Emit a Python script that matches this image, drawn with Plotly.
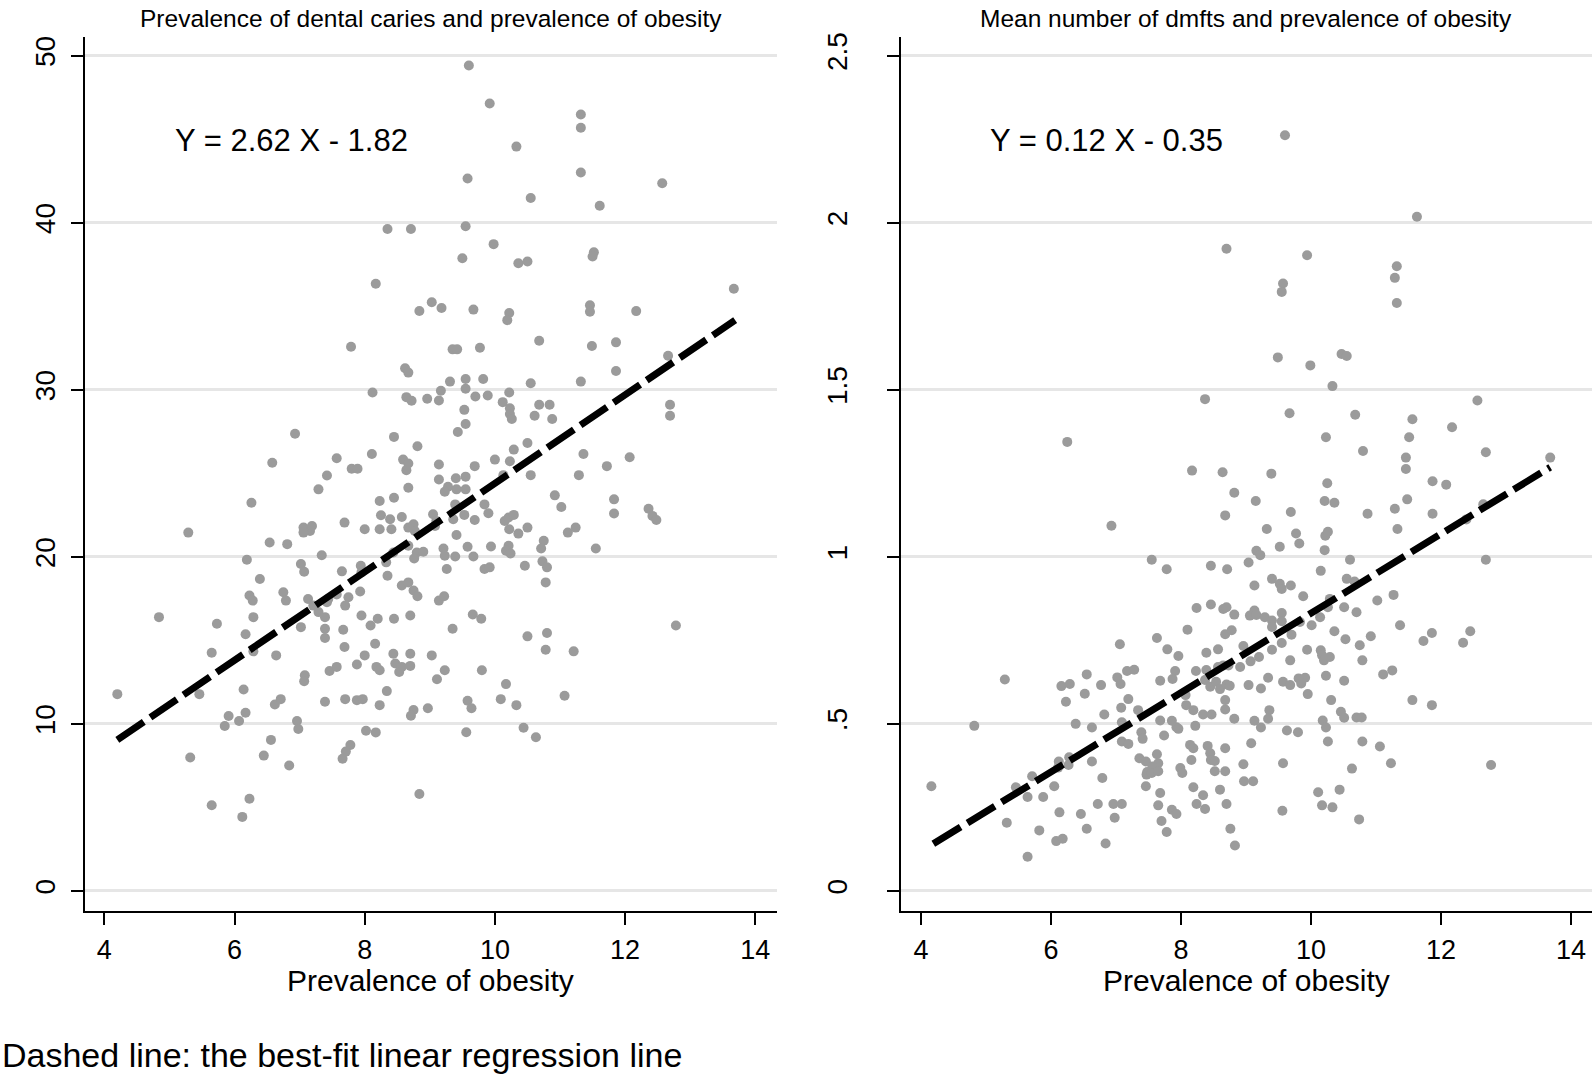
import plotly.graph_objects as go

# ---------------- data ----------------
# Left panel: prevalence of obesity (x) vs prevalence of dental caries (y)
caries_obesity = [
    8.35, 8.71, 8.17, 8.84, 7.79, 8.62, 8.67, 8.12, 8.64, 8.72, 8.96, 6.93, 8.45, 8.81, 6.58, 7.57, 8.11, 7.80, 7.89, 7.42,
    8.59, 8.67, 8.64, 7.29, 8.67,
    9.60, 9.92, 11.32, 11.32, 10.33, 9.58, 11.32, 12.57, 10.55, 11.61, 9.55, 9.98, 9.50, 10.36, 10.50, 11.52, 11.50, 13.67,
    9.03, 9.18, 9.67, 10.22, 10.19, 11.46, 11.46, 12.17, 10.68, 9.35, 9.42, 9.77, 11.49, 11.86, 12.66, 11.86, 9.31, 9.55,
    9.82, 9.55, 9.17, 9.14, 9.70, 9.89, 10.22, 10.55, 11.32, 10.12, 10.23, 10.23, 10.26, 10.68, 10.84, 10.61, 10.88, 12.69,
    12.69, 9.53, 9.55, 9.43, 10.50, 10.29, 11.36, 12.07, 9.14, 10.00, 10.23, 9.69, 11.72, 9.14, 9.40, 9.55, 10.13, 10.55,
    11.29, 9.28, 9.23, 9.41, 9.55,
    6.26, 8.23, 8.45, 5.29, 6.54, 6.81, 7.06, 7.16, 7.06, 7.19, 7.69, 8.00, 8.23, 8.25, 8.39, 8.41, 8.57, 8.67, 8.75, 8.77,
    8.67, 8.80, 8.90, 8.76, 8.44, 8.33, 7.34, 6.19, 7.02, 7.07, 7.65, 7.94, 7.95, 8.35, 6.39, 6.23, 6.28, 6.75, 6.79, 7.13,
    7.44, 7.42, 7.57, 7.75, 7.70, 7.93, 8.57, 8.67, 8.75, 8.81, 7.21, 7.29, 7.39, 4.84, 5.73, 6.29, 7.02, 7.39, 7.39, 7.67,
    7.95, 8.09, 8.20, 8.45, 8.70, 6.17, 5.65, 6.29, 6.64, 7.69, 8.16, 8.00, 8.44, 8.47, 8.57, 8.70, 8.53, 8.70, 7.46, 7.57,
    7.88, 8.18, 8.23, 7.08, 7.07, 4.20, 5.46, 6.14, 8.34, 6.62, 6.71, 7.39, 7.70, 7.88, 7.97, 8.23, 8.75, 8.71, 8.97, 5.91,
    6.17, 6.07, 5.85, 6.96, 6.98, 8.02, 8.17, 6.56, 6.45, 7.78, 7.71, 7.66, 6.84, 5.32, 8.84, 5.65, 6.23, 6.12,
    10.92, 11.02, 11.83, 11.83, 12.36, 12.42, 12.48, 9.39, 9.05, 9.08, 9.10, 9.36, 9.53, 9.69, 9.84, 9.90, 9.41, 10.15,
    10.21, 10.29, 10.22, 10.36, 10.50, 11.12, 11.24, 10.75, 10.71, 11.55, 9.21, 9.23, 9.39, 9.58, 9.67, 9.94, 10.21, 10.17,
    10.24, 9.26, 9.84, 9.92, 10.46, 10.73, 10.80, 10.78, 9.14, 9.22, 9.66, 9.79, 9.35, 10.50, 10.80, 10.78, 11.21, 12.78,
    9.03, 9.23, 9.11, 9.80, 10.17, 10.09, 10.33, 11.07, 9.58, 9.64, 9.56, 10.44, 10.63,
]
caries_prevalence = [
    39.63, 39.63, 36.35, 34.72, 32.58, 31.29, 31.03, 29.84, 29.56, 29.34, 29.46, 27.37, 27.18, 26.62, 25.63, 25.90, 26.16,
    25.27, 25.27, 24.87, 25.82, 25.59, 25.19, 24.04, 24.14,
    49.42, 47.14, 46.48, 45.69, 44.56, 42.65, 43.01, 42.37, 41.48, 41.02, 39.79, 38.72, 37.88, 37.58, 37.68, 38.24, 37.98,
    36.05, 35.24, 34.90, 34.80, 34.60, 34.17, 35.06, 34.67, 34.71, 32.94, 32.42, 32.42, 32.52, 32.62, 32.84, 32.04, 31.13,
    30.49, 30.65, 30.65, 30.06, 29.94, 29.36, 29.60, 29.66, 29.84, 30.39, 30.49, 29.26, 28.90, 28.55, 28.25, 29.10, 29.10,
    28.45, 28.25, 29.10, 28.45, 28.80, 27.95, 27.47, 26.82, 26.42, 26.16, 25.96, 25.53, 25.82, 25.72, 25.43, 25.43, 24.63,
    24.70, 24.80, 24.89, 24.89, 24.89, 24.20, 23.90, 24.04, 24.04,
    23.24, 23.34, 23.54, 21.45, 20.86, 20.76, 21.75, 21.55, 21.45, 21.85, 22.05, 21.65, 21.65, 22.49, 22.25, 21.65, 22.39,
    21.75, 21.95, 21.55, 20.66, 20.26, 20.30, 19.90, 20.26, 19.67, 20.10, 19.83, 19.57, 19.11, 19.13, 19.47, 19.07, 18.87,
    18.67, 17.68, 17.38, 17.88, 17.38, 17.48, 17.48, 17.28, 17.74, 17.58, 17.08, 17.92, 18.28, 18.47, 17.98, 17.64, 17.08,
    16.69, 16.39, 16.39, 15.99, 16.39, 15.79, 15.69, 15.14, 15.63, 16.49, 15.89, 16.29, 16.29, 16.49, 15.36, 14.26, 14.34,
    14.10, 14.60, 14.80, 14.10, 14.20, 13.61, 13.41, 13.47, 13.11, 14.20, 13.17, 13.41, 13.55, 13.41, 13.21, 12.91, 12.55,
    11.78, 11.78, 12.06, 11.96, 11.16, 11.48, 11.32, 11.48, 11.42, 11.48, 11.12, 10.83, 10.49, 10.93, 10.47, 10.67, 10.17,
    9.87, 10.17, 9.69, 9.59, 9.49, 9.04, 8.10, 8.74, 8.34, 7.91, 7.51, 7.99, 5.80, 5.13, 5.52, 4.43,
    23.68, 22.98, 23.44, 22.59, 22.88, 22.45, 22.21, 23.14, 22.55, 21.85, 22.15, 22.25, 22.51, 22.21, 23.14, 22.61, 21.31,
    22.15, 22.35, 22.51, 21.65, 21.39, 21.75, 21.45, 21.75, 20.96, 20.50, 20.50, 20.50, 20.06, 20.02, 20.60, 20.02, 20.62,
    20.66, 20.36, 20.20, 19.27, 19.27, 19.37, 19.47, 19.73, 19.37, 18.47, 17.38, 17.64, 16.55, 16.29, 15.69, 15.24, 15.44,
    14.44, 14.34, 15.89, 14.10, 13.21, 12.67, 13.21, 12.38, 11.48, 11.12, 11.68, 11.38, 10.93, 9.50, 9.77, 9.20,
]

# Right panel: prevalence of obesity (x) vs mean number of dmfts (y)
dmft_obesity = [
    8.70, 8.37, 6.25, 8.17, 8.64,
    9.60, 11.63, 9.94, 9.57, 9.55, 11.32, 11.29, 11.32, 9.49, 9.99, 10.47, 10.55, 10.33, 9.67, 10.68, 11.56, 12.56, 12.17,
    10.23, 11.51, 10.80, 12.69, 11.46, 13.68, 9.39, 11.46, 10.25, 11.87, 12.08,
    8.82, 8.68, 6.93, 7.55, 7.78, 8.46, 8.71, 8.24, 8.46, 8.65, 8.70, 8.82, 8.10, 8.68, 8.78, 7.63, 7.06, 7.79, 7.96, 8.39,
    8.57, 8.96, 8.91, 5.29, 6.16, 6.29, 6.23, 6.55, 6.52, 6.77, 7.02, 7.07, 7.17, 7.28, 7.68, 7.91, 7.87, 7.19, 7.08, 7.34,
    6.82, 8.23, 8.39, 8.37, 8.45, 8.57, 8.65, 8.73, 8.54, 8.60, 8.70, 8.75, 8.68, 8.68, 8.07, 8.08, 8.19, 8.34, 8.47, 8.82,
    4.82, 6.38, 6.63, 7.09, 7.68, 7.86, 7.93, 7.96, 8.22, 7.39, 7.41, 7.74, 7.09, 7.19, 8.14, 8.19, 8.41, 8.45, 8.46, 8.52,
    8.68, 6.28, 6.27, 6.12, 6.11, 6.63, 7.36, 7.46, 7.48, 7.47, 7.63, 7.65, 7.56, 7.55, 7.65, 7.99, 8.02, 8.16, 8.52, 8.68,
    8.96, 8.97, 5.71, 6.79, 4.16, 5.46, 6.05, 5.64, 5.88, 7.46, 7.68, 8.19, 8.34, 8.60, 6.72, 6.96, 7.09, 7.65, 8.24, 8.37,
    8.70, 7.86, 7.93, 6.13, 6.46, 5.32, 6.98, 7.70, 5.82, 6.55, 7.78, 8.76, 6.08, 6.18, 6.84, 8.83, 5.64,
    9.15, 10.21, 10.36, 11.48, 9.69, 10.87, 11.29, 11.87, 12.65, 12.39, 9.32, 9.77, 9.82, 10.22, 10.26, 11.33, 9.52, 9.16,
    9.22, 10.21, 9.04, 10.60, 12.69, 10.15, 9.40, 9.52, 9.55, 9.69, 9.13, 10.55, 10.67, 9.88, 10.29, 10.26, 11.02, 11.27,
    10.51, 10.70, 9.13, 9.06, 9.16, 9.29, 9.40, 9.40, 9.55, 9.55, 9.83, 10.01, 10.14, 9.70, 10.36, 10.53, 10.92, 11.37,
    10.75, 11.73, 11.86, 12.34, 12.45, 9.40, 9.55, 9.94, 10.15, 10.17, 10.20, 10.29, 9.20, 9.07, 9.68, 10.79, 11.11, 11.25,
    9.34, 9.57, 9.68, 9.81, 9.91, 9.85, 10.23, 10.51, 9.04, 9.23, 9.95, 10.31, 11.56, 11.86, 9.36, 9.34, 10.46, 10.51,
    10.70, 10.78, 9.13, 9.23, 10.18, 10.23, 9.63, 9.80, 9.08, 10.26, 10.79, 11.06, 9.57, 11.23, 12.77, 10.63, 9.11, 10.11,
    10.44, 10.17, 10.33, 9.56, 10.74,
]
dmft_mean = [
    1.922, 1.472, 1.344, 1.258, 1.253,
    2.262, 2.018, 1.903, 1.818, 1.793, 1.870, 1.835, 1.760, 1.597, 1.573, 1.607, 1.601, 1.511, 1.430, 1.425, 1.412, 1.468,
    1.388, 1.358, 1.358, 1.317, 1.313, 1.297, 1.297, 1.249, 1.263, 1.220, 1.226, 1.216,
    1.192, 1.124, 1.093, 0.991, 0.963, 0.973, 0.963, 0.847, 0.857, 0.844, 0.849, 0.827, 0.782, 0.768, 0.780, 0.757, 0.738,
    0.723, 0.703, 0.713, 0.723, 0.733, 0.670, 0.633, 0.613, 0.619, 0.566, 0.648, 0.590, 0.616, 0.639, 0.619, 0.658, 0.662,
    0.629, 0.658, 0.634, 0.574, 0.548, 0.541, 0.528, 0.658, 0.661, 0.631, 0.611, 0.670, 0.675, 0.675, 0.626, 0.604, 0.618,
    0.614, 0.571, 0.543, 0.586, 0.556, 0.541, 0.528, 0.528, 0.515, 0.494, 0.500, 0.489, 0.505, 0.510, 0.509, 0.490, 0.485,
    0.494, 0.475, 0.455, 0.465, 0.447, 0.440, 0.437, 0.427, 0.434, 0.412, 0.392, 0.389, 0.427, 0.400, 0.377, 0.387, 0.369,
    0.387, 0.397, 0.387, 0.356, 0.348, 0.409, 0.382, 0.372, 0.353, 0.358, 0.368, 0.353, 0.392, 0.358, 0.358, 0.379, 0.328,
    0.343, 0.338, 0.313, 0.310, 0.313, 0.281, 0.281, 0.313, 0.293, 0.310, 0.286, 0.303, 0.260, 0.260, 0.260, 0.256, 0.260,
    0.245, 0.260, 0.243, 0.230, 0.235, 0.230, 0.204, 0.219, 0.209, 0.181, 0.186, 0.176, 0.186, 0.149, 0.156, 0.142, 0.136,
    0.102,
    1.167, 1.167, 1.162, 1.172, 1.134, 1.129, 1.144, 1.129, 1.157, 1.112, 1.083, 1.070, 1.040, 1.063, 1.075, 1.083, 1.030,
    1.018, 1.005, 1.020, 0.983, 0.991, 0.991, 0.958, 0.934, 0.919, 0.904, 0.914, 0.914, 0.934, 0.926, 0.882, 0.874, 0.849,
    0.869, 0.886, 0.849, 0.834, 0.839, 0.824, 0.826, 0.819, 0.809, 0.790, 0.832, 0.807, 0.805, 0.795, 0.819, 0.767, 0.777,
    0.753, 0.762, 0.795, 0.735, 0.748, 0.772, 0.743, 0.777, 0.722, 0.742, 0.722, 0.720, 0.705, 0.690, 0.700, 0.700, 0.687,
    0.690, 0.690, 0.648, 0.660, 0.638, 0.626, 0.616, 0.636, 0.638, 0.621, 0.644, 0.629, 0.616, 0.606, 0.589, 0.571, 0.571,
    0.556, 0.541, 0.515, 0.536, 0.518, 0.519, 0.519, 0.509, 0.489, 0.510, 0.489, 0.480, 0.475, 0.442, 0.447, 0.447, 0.432,
    0.382, 0.382, 0.377, 0.366, 0.328, 0.295, 0.303, 0.256, 0.250, 0.240, 0.214,
]

# Best-fit lines (end points)
fit_caries_x = [4.20, 13.69]
fit_caries_y = [9.04, 34.17]
fit_dmft_x = [4.19, 13.68]
fit_dmft_y = [0.141, 1.268]

x_ticks = [4, 6, 8, 10, 12, 14]
caries_ticks = [0, 10, 20, 30, 40, 50]
dmft_ticks = [0, 0.5, 1, 1.5, 2, 2.5]
dmft_tick_labels = ["0", ".5", "1", "1.5", "2", "2.5"]

titles = ["Prevalence of dental caries and prevalence of obesity",
          "Mean number of dmfts and prevalence of obesity"]
x_title = "Prevalence of obesity"
equations = ["Y = 2.62 X - 1.82", "Y = 0.12 X - 0.35"]
note = "Dashed line: the best-fit linear regression line"

# ---------------- figure ----------------
FONT = "Liberation Sans, Arial, Helvetica, sans-serif"
W, H = 1594, 1077
DOT = "#9b9b9b"
GRID = "#e6e6e6"

fig = go.Figure()
fig.add_trace(go.Scatter(x=caries_obesity, y=caries_prevalence, mode="markers",
                         marker=dict(color=DOT, size=10, line=dict(width=0)),
                         xaxis="x", yaxis="y", hoverinfo="x+y"))
fig.add_trace(go.Scatter(x=fit_caries_x, y=fit_caries_y, mode="lines",
                         line=dict(color="black", width=7, dash="32px,8px"),
                         xaxis="x", yaxis="y"))
fig.add_trace(go.Scatter(x=dmft_obesity, y=dmft_mean, mode="markers",
                         marker=dict(color=DOT, size=10, line=dict(width=0)),
                         xaxis="x2", yaxis="y2", hoverinfo="x+y"))
fig.add_trace(go.Scatter(x=fit_dmft_x, y=fit_dmft_y, mode="lines",
                         line=dict(color="black", width=7, dash="32px,8px"),
                         xaxis="x2", yaxis="y2"))

ydom = [1 - 910 / H, 1 - 32 / H]
dom_l = [84.7 / W, 777 / W]
dom_r = [900.7 / W, 1592 / W]

common_x = dict(tickvals=x_ticks, ticks="outside", ticklen=12, tickwidth=1.6, tickcolor="black",
                showline=True, linecolor="black", linewidth=1.6, showgrid=False, zeroline=False,
                tickfont=dict(family=FONT, size=27, color="black"), ticklabelstandoff=2,
                fixedrange=True)
common_y = dict(ticks="outside", ticklen=12, tickwidth=1.6, tickcolor="black",
                showline=True, linecolor="black", linewidth=1.6, showgrid=True,
                gridcolor=GRID, gridwidth=2.5, zeroline=False, tickangle=-90,
                tickfont=dict(family=FONT, size=28, color="black"), fixedrange=True)

fig.update_layout(
    width=W, height=H,
    margin=dict(l=0, r=0, t=0, b=0),
    paper_bgcolor="white", plot_bgcolor="white",
    showlegend=False,
    font=dict(family=FONT, color="black"),
    xaxis=dict(domain=dom_l, range=[3.699, 14.333], anchor="y", **common_x),
    yaxis=dict(domain=ydom, range=[-1.19, 51.13], anchor="x", tickvals=caries_ticks,
               ticklabelstandoff=5, **common_y),
    xaxis2=dict(domain=dom_r, range=[3.688, 14.323], anchor="y2", **common_x),
    yaxis2=dict(domain=ydom, range=[-0.0596, 2.5565], anchor="x2", tickvals=dmft_ticks,
                ticktext=dmft_tick_labels, ticklabelstandoff=29, **common_y),
)

ann = []
for i, (dom, xr, yr) in enumerate([(dom_l, "x", "y"), (dom_r, "x2", "y2")]):
    cx = (dom[0] + dom[1]) / 2
    ann.append(dict(text=titles[i], xref="paper", yref="paper", x=cx, y=1 - 14 / H,
                    xanchor="center", yanchor="middle", showarrow=False,
                    font=dict(family=FONT, size=24.5, color="black")))
    ann.append(dict(text=x_title, xref="paper", yref="paper", x=cx, y=1 - 980 / H,
                    xanchor="center", yanchor="middle", showarrow=False,
                    font=dict(family=FONT, size=30, color="black")))
ann.append(dict(text=equations[0], xref="x", yref="y", x=6.87, y=44.93,
                xanchor="center", yanchor="middle", showarrow=False,
                font=dict(family=FONT, size=31, color="black")))
ann.append(dict(text=equations[1], xref="x2", yref="y2", x=6.86, y=2.247,
                xanchor="center", yanchor="middle", showarrow=False,
                font=dict(family=FONT, size=31, color="black")))
ann.append(dict(text=note, xref="paper", yref="paper", x=0, y=1 - 1055 / H,
                xanchor="left", yanchor="middle", showarrow=False,
                font=dict(family=FONT, size=34, color="black")))
fig.update_layout(annotations=ann)

fig.write_html("out.html", include_plotlyjs=True, full_html=True,
               config={"displayModeBar": False},
               post_script="document.body.style.margin='0';document.body.style.overflow='hidden';")
